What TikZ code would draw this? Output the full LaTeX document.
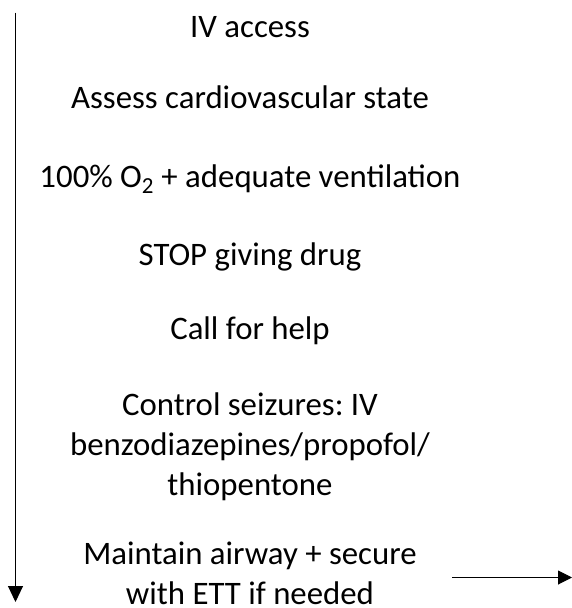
\documentclass[tikz,border=0pt]{standalone}
\usepackage{fontspec}
\setmainfont{Carlito}
\usetikzlibrary{arrows.meta}
\frenchspacing

\begin{document}
\begin{tikzpicture}[x=1pt,y=-1pt,
		stage/.style={font=\fontsize{32.8}{40}\selectfont,align=center,anchor=base,inner sep=0pt},
		flow/.style={line width=1pt,-{Triangle[length=16pt,width=15pt]}}]
			\useasboundingbox (0,0) rectangle (572,608);
			% steps, top to bottom (base = last line)
			\node[stage] (iv) at (250,37) {IV access};
			\node[stage] (assess) at (250,108) {Assess cardiovascular state};
			\node[stage] (oxygen) at (250,187) {100\% O\textsubscript{2} + adequate ventilation};
			\node[stage] (stop) at (250,265) {STOP giving drug};
			\node[stage] (help) at (250,339) {Call for help};
			\node[stage] (seizures) at (250,495) {Control seizures: IV\\benzodiazepines/propofol/\\thiopentone};
			\node[stage] (airway) at (250,604) {Maintain airway + secure\\with ETT if needed};
			% time arrow
			\coordinate (tstart) at (15.5,12.7);
			\coordinate (tend) at (15.5,602);
			\draw[flow] (tstart) -- (tend);
			% onward arrow
			\coordinate (nstart) at (452,577.5);
			\coordinate (nend) at (572,577.5);
			\draw[flow,-{Triangle[length=14pt,width=14pt]}] (nstart) -- (nend);
		\end{tikzpicture}
\end{document}
